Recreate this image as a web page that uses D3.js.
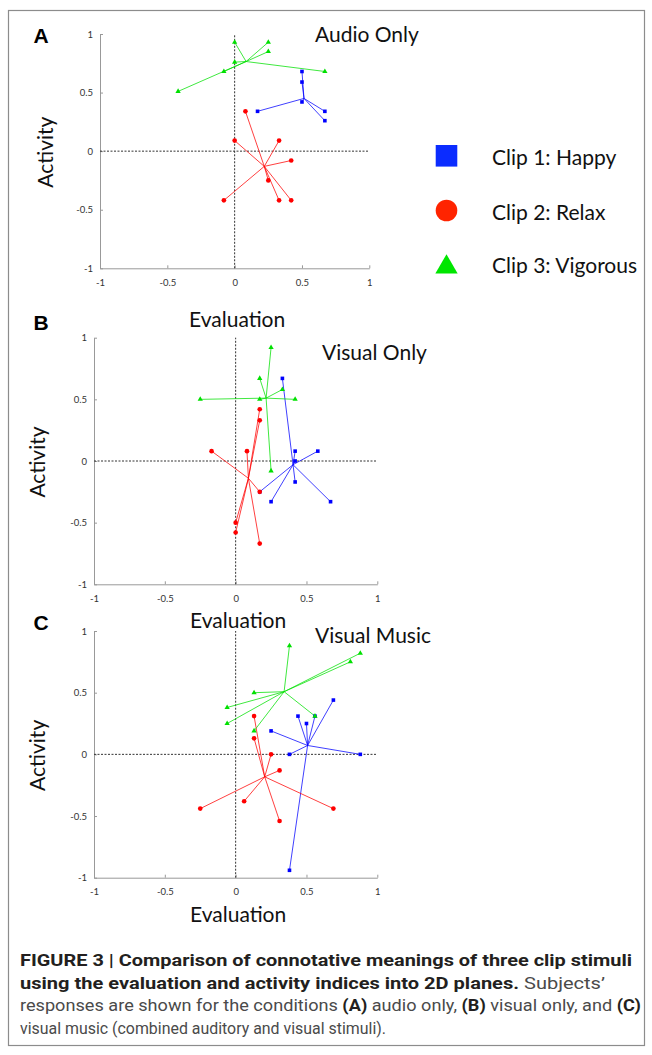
<!DOCTYPE html>
<html>
<head>
<meta charset="utf-8">
<script src="https://cdn.jsdelivr.net/npm/d3@7"></script>
<style>
  body { margin: 0; background: #fff; }
  svg { display: block; }
</style>
</head>
<body>
<svg id="fig" width="652" height="1055"></svg>
<script>
// Evaluation (x) / Activity (y) coordinates

const evalTicks = [-1, -0.5, 0, 0.5, 1];
const actTicks = [-1, -0.5, 0, 0.5, 1];
const clipNames = ["Clip 1: Happy", "Clip 2: Relax", "Clip 3: Vigorous"];
const panelLetters = ["A", "B", "C"];
const panelTitles = ["Audio Only", "Visual Only", "Visual Music"];

// (A) audio only
const audioHappy = [[0.5, 0.68], [0.5, 0.59], [0.5, 0.42], [0.17, 0.34], [0.67, 0.34], [0.67, 0.26]];
const audioRelax = [[0.08, 0.34], [0, 0.09], [0.33, 0.09], [0.42, -0.08], [0.25, -0.25], [-0.08, -0.42], [0.33, -0.42], [0.42, -0.42]];
const audioVigorous = [[0, 0.93], [0.25, 0.93], [0.25, 0.85], [0, 0.76], [-0.08, 0.68], [-0.42, 0.51], [0.67, 0.68]];
const audioCenters = [[0.515, 0.45], [0.22, -0.13], [0.085, 0.765]];

// (B) visual only
const visualHappy = [[0.33, 0.67], [0.42, 0.08], [0.58, 0.08], [0.42, 0], [0.42, -0.17], [0.25, -0.33], [0.67, -0.33], [0.17, -0.25]];
const visualRelax = [[0.17, 0.42], [0.17, 0.33], [-0.17, 0.08], [0.08, 0.08], [0.17, -0.25], [0, -0.5], [0, -0.58], [0.17, -0.67]];
const visualVigorous = [[0.25, 0.92], [0.17, 0.67], [0.33, 0.58], [-0.25, 0.5], [0.17, 0.5], [0.42, 0.5], [0.25, -0.08]];
const visualCenters = [[0.405, -0.03], [0.09, -0.14], [0.215, 0.51]];

// (C) visual music
const musicHappy = [[0.69, 0.44], [0.44, 0.31], [0.5, 0.25], [0.56, 0.31], [0.25, 0.19], [0.38, 0], [0.88, 0], [0.38, -0.94]];
const musicRelax = [[0.13, 0.31], [0.13, 0.13], [0.25, 0], [0.31, -0.13], [0.06, -0.38], [-0.25, -0.44], [0.31, -0.54], [0.69, -0.44]];
const musicVigorous = [[0.38, 0.88], [0.88, 0.82], [0.81, 0.75], [0.13, 0.5], [-0.06, 0.38], [-0.06, 0.25], [0.13, 0.19], [0.56, 0.31]];
const musicCenters = [[0.508, 0.072], [0.205, -0.182], [0.342, 0.508]];

// ---- layout / style ----
const clipColors = ["#0000ff", "#ff0000", "#00e000"];
const legendColors = ["#0b2cff", "#ff2400", "#00e600"];
const symbolTypes = [d3.symbolSquare, d3.symbolCircle, d3.symbolTriangle];
const markerSizes = [13, 17, 12];
const legendSizes = [466, 366, 215];

const labelFont = "Lato, 'Open Sans', sans-serif";

const panels = [
  { groups: [audioHappy, audioRelax, audioVigorous], centers: audioCenters,
    x: [100, 369.3], y: [268.3, 34], letterY: 42.5, titleX: 315, titleY: 42,
    actX: 45.5, evalY: 326.5 },
  { groups: [visualHappy, visualRelax, visualVigorous], centers: visualCenters,
    x: [94, 377.3], y: [584.3, 337.7], letterY: 329.5, titleX: 322, titleY: 360,
    actX: 37.5, evalY: 627.5 },
  { groups: [musicHappy, musicRelax, musicVigorous], centers: musicCenters,
    x: [94, 377.3], y: [877.7, 631], letterY: 629.5, titleX: 315, titleY: 643,
    actX: 37.5, evalY: 921.5 }
];

const svg = d3.select("#fig");

// outer frame
svg.append("rect")
  .attr("x", 8.5).attr("y", 10.5)
  .attr("width", 636).attr("height", 1035)
  .attr("fill", "none")
  .attr("stroke", "#8c8c8c")
  .attr("stroke-width", 1.2);

panels.forEach((p, i) => {
  const x = d3.scaleLinear().domain([-1, 1]).range(p.x);
  const y = d3.scaleLinear().domain([-1, 1]).range(p.y);
  const g = svg.append("g");

  // axes (left + bottom only, small inward ticks)
  const xAxis = d3.axisBottom(x).tickValues(evalTicks).tickFormat(d => String(d))
    .tickSize(-3).tickSizeOuter(0).tickPadding(11);
  const yAxis = d3.axisLeft(y).tickValues(actTicks).tickFormat(d => String(d))
    .tickSize(-3).tickSizeOuter(0).tickPadding(7);

  const gx = g.append("g").attr("transform", `translate(0,${p.y[0]})`).call(xAxis);
  const gy = g.append("g").attr("transform", `translate(${p.x[0]},0)`).call(yAxis);
  [gx, gy].forEach(a => {
    a.select(".domain").attr("stroke", "#999");
    a.selectAll(".tick line").attr("stroke", "#999");
    a.selectAll(".tick text")
      .attr("fill", "#333")
      .style("font-family", labelFont)
      .style("font-size", "9.5px");
  });

  // dashed zero lines
  g.append("line")
    .attr("x1", x(-1)).attr("x2", x(1)).attr("y1", y(0)).attr("y2", y(0))
    .attr("stroke", "#333").attr("stroke-dasharray", "2,1.5");
  g.append("line")
    .attr("x1", x(0)).attr("x2", x(0)).attr("y1", y(-1)).attr("y2", y(1))
    .attr("stroke", "#333").attr("stroke-dasharray", "2,1.5");

  // star plots: center to each subject
  p.groups.forEach((pts, k) => {
    const c = p.centers[k];
    g.append("g").selectAll("line")
      .data(pts)
      .join("line")
      .attr("x1", x(c[0])).attr("y1", y(c[1]))
      .attr("x2", d => x(d[0])).attr("y2", d => y(d[1]))
      .attr("stroke", clipColors[k])
      .attr("stroke-opacity", 0.75)
      .attr("stroke-width", 1);
  });
  p.groups.forEach((pts, k) => {
    g.append("g").selectAll("path")
      .data(pts)
      .join("path")
      .attr("d", d3.symbol().type(symbolTypes[k]).size(markerSizes[k]))
      .attr("transform", d => `translate(${x(d[0])},${y(d[1])})`)
      .attr("fill", clipColors[k]);
  });

  // texts
  svg.append("text")
    .attr("x", 33.5).attr("y", p.letterY)
    .style("font-family", "'Liberation Sans', Arial, sans-serif")
    .style("font-weight", "bold").style("font-size", "21px")
    .attr("fill", "#000")
    .text(panelLetters[i]);

  svg.append("text")
    .attr("x", p.titleX).attr("y", p.titleY)
    .style("font-family", labelFont).style("font-size", "21px")
    .attr("fill", "#111")
    .text(panelTitles[i]);

  svg.append("text")
    .attr("transform", `translate(${p.actX},${(p.y[0] + p.y[1]) / 2 + 1}) rotate(-90)`)
    .attr("text-anchor", "middle")
    .attr("dy", "0.35em")
    .style("font-family", labelFont).style("font-size", "21px")
    .attr("fill", "#111")
    .text("Activity");

  svg.append("text")
    .attr("x", (p.x[0] + p.x[1]) / 2 + 2.5).attr("y", p.evalY)
    .attr("text-anchor", "middle")
    .style("font-family", labelFont).style("font-size", "21px")
    .attr("fill", "#111")
    .text("Evaluation");
});

// legend
const legendY = [155.8, 210.5, 267];
const legendTextY = [165, 220, 273];
clipNames.forEach((name, k) => {
  svg.append("path")
    .attr("d", d3.symbol().type(symbolTypes[k]).size(legendSizes[k]))
    .attr("transform", `translate(446.5,${legendY[k]})`)
    .attr("fill", legendColors[k]);
  svg.append("text")
    .attr("x", 492).attr("y", legendTextY[k])
    .style("font-family", labelFont).style("font-size", "21px")
    .attr("fill", "#111")
    .text(name);
});

// caption
const capFont = "'Liberation Sans Narrow', 'Roboto', sans-serif";
const capLines = [
  { y: 966, w: 612, parts: [["FIGURE 3 | Comparison of connotative meanings of three clip stimuli", true]] },
  { y: 988.5, w: 585, parts: [["using the evaluation and activity indices into 2D planes.", true], [" Subjects\u2019", false]] },
  { y: 1011, w: 621, parts: [["responses are shown for the conditions ", false], ["(A)", true], [" audio only, ", false], ["(B)", true], [" visual only, and ", false], ["(C)", true]] },
  { y: 1033.5, w: 366, parts: [["visual music (combined auditory and visual stimuli).", false]] }
];
capLines.forEach(line => {
  const t = svg.append("text")
    .attr("x", 20).attr("y", line.y)
    .attr("textLength", line.w)
    .attr("lengthAdjust", "spacingAndGlyphs")
    .style("font-family", capFont)
    .style("font-size", "16.5px");
  line.parts.forEach(([s, bold]) => {
    t.append("tspan")
      .style("font-weight", bold ? "bold" : "normal")
      .attr("fill", bold ? "#231f20" : "#4a4a4a")
      .text(s);
  });
});
</script>
</body>
</html>
